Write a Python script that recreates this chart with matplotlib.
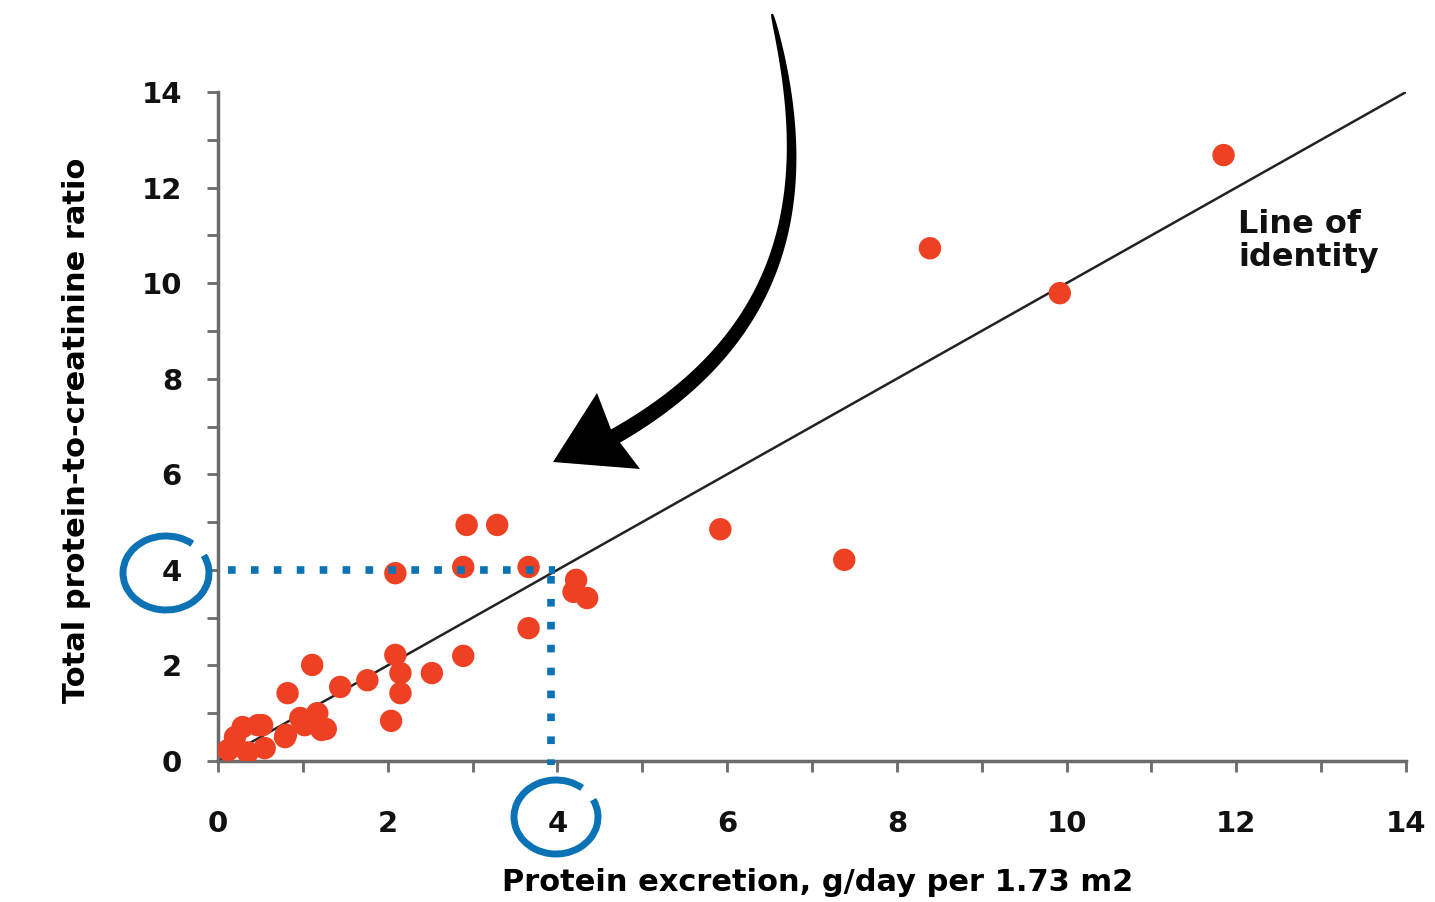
import numpy as np
import matplotlib
matplotlib.use("Agg")
import matplotlib.pyplot as plt
from matplotlib.patches import Polygon, Arc

# data
excretion = [11.85, 8.39, 9.92, 5.92, 7.38,
             2.93, 3.29, 2.89, 3.66, 2.09, 4.22, 4.19, 4.35, 3.66,
             2.89, 2.09, 2.15, 2.15, 2.52, 2.04, 1.76, 1.44, 1.11,
             0.82, 1.17, 1.27, 0.97, 0.80, 0.52, 0.29,
             0.12, 0.20, 0.35, 0.47, 0.55, 0.79, 1.02, 1.22]
ratio = [12.68, 10.73, 9.79, 4.85, 4.21,
         4.94, 4.94, 4.06, 4.06, 3.93, 3.79, 3.54, 3.41, 2.78,
         2.20, 2.22, 1.84, 1.42, 1.84, 0.84, 1.69, 1.55, 2.01,
         1.42, 1.00, 0.67, 0.90, 0.55, 0.75, 0.71,
         0.23, 0.50, 0.18, 0.75, 0.27, 0.50, 0.75, 0.65]

identity = [0, 14]
guide_x = 3.92
guide_y = 4
ticks = [0, 2, 4, 6, 8, 10, 12, 14]

dot_color = "#ee4123"
blue = "#0a72b5"
spine_grey = "#6b6b6b"

fig = plt.figure(figsize=(14.35, 9.02), dpi=100)
ax = fig.add_axes([218 / 1435, 141 / 902, 1188 / 1435, 669 / 902])

ax.plot(identity, identity, color="#222222", lw=1.8, zorder=2)
ax.scatter(excretion, ratio, s=260, color=dot_color, edgecolors="none", zorder=3)

ax.plot([0.12, guide_x + 0.05], [guide_y, guide_y], color=blue, lw=5.5,
        linestyle=(0, (1, 2)), dash_capstyle="butt", zorder=4, clip_on=False)
ax.plot([guide_x, guide_x], [guide_y - 0.12, -0.08], color=blue, lw=5.5,
        linestyle=(0, (1, 2)), dash_capstyle="butt", zorder=4, clip_on=False)

ax.text(12.02, 11.55, "Line of\nidentity", fontsize=23, fontweight="bold",
        ha="left", va="top", linespacing=1.1, color="#111111")

ax.set_xlim(0, 14)
ax.set_ylim(0, 14)
ax.set_xticks(ticks)
ax.set_yticks(ticks)
ax.set_xticks(range(15), minor=True)
ax.set_yticks(range(15), minor=True)
for lab in ax.get_xticklabels() + ax.get_yticklabels():
    lab.set_fontweight("bold")
ax.tick_params(which="both", direction="out", length=8, width=2, color=spine_grey,
               labelsize=21, labelcolor="#111111")
ax.tick_params(axis="x", pad=27)
ax.tick_params(axis="y", pad=18)

for side in ["top", "right"]:
    ax.spines[side].set_visible(False)
for side in ["left", "bottom"]:
    ax.spines[side].set_color(spine_grey)
    ax.spines[side].set_linewidth(2.5)

ax.set_xlabel("Protein excretion, g/day per 1.73 m2", fontsize=22,
              fontweight="bold", va="center")
ax.set_ylabel("Total protein-to-creatinine ratio", fontsize=22,
              fontweight="bold", va="center")
ax.xaxis.set_label_coords(0.505, -0.182)
ax.yaxis.set_label_coords(-0.119, 0.495)

# overlay in pixel coordinates for the hand-drawn marks
ov = fig.add_axes([0, 0, 1, 1], zorder=10)
ov.set_xlim(0, 1435)
ov.set_ylim(902, 0)
ov.axis("off")
ov.patch.set_alpha(0)

# curved brush arrow
p0, p1, p2, p3 = map(np.array, [(772, 14), (812, 170), (805, 330), (612, 438)])
t = np.linspace(0, 1, 120)[:, None]
curve = (1 - t) ** 3 * p0 + 3 * (1 - t) ** 2 * t * p1 + 3 * (1 - t) * t ** 2 * p2 + t ** 3 * p3
d = np.gradient(curve, axis=0)
n = np.column_stack([-d[:, 1], d[:, 0]])
n /= np.linalg.norm(n, axis=1)[:, None]
half = 1 + 7 * np.sqrt(t[:, 0])
shape = np.vstack([curve + n * half[:, None], (curve - n * half[:, None])[::-1]])
ov.add_patch(Polygon(shape, closed=True, color="black", lw=0))
ov.add_patch(Polygon([(553, 462), (597, 393), (612, 432), (640, 469)],
                     closed=True, color="black", lw=0))

# brush circles around the 4 labels (y axis of overlay is flipped)
ov.add_patch(Arc((166, 573), 86, 74, theta1=-25, theta2=312, color=blue, lw=5))
ov.add_patch(Arc((556, 817), 84, 74, theta1=-25, theta2=312, color=blue, lw=5))

fig.savefig("out.png", dpi=100)
